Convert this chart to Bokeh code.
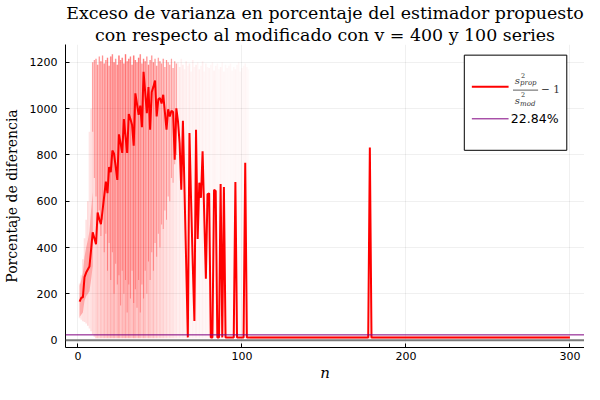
from bokeh.plotting import figure
from bokeh.models import Range1d, FixedTicker, Span, Title
from bokeh.core.properties import value
from bokeh.embed import file_html
from bokeh.resources import INLINE

# media del exceso de varianza (%) para n = 1..104
media = [166, 183, 185, 272, 292, 305, 318, 390, 466, 440,
         414, 551, 522, 501, 560, 622, 685, 635, 748, 726,
         819, 805, 750, 692, 889, 850, 809, 955, 880, 809,
         977, 955, 929, 840, 1066, 1020, 973, 1013, 920, 1159,
         1070, 980, 1093, 909, 1072, 1095, 1121, 966, 1040, 1046,
         1022, 1060, 985, 909, 997, 966, 991, 985, 779, 1001,
         945, 850, 650, 948, 640, 330, 12, 895, 600, 330,
         83, 909, 437, 680, 615, 816, 540, 265, 631, 634,
         12, 12, 650, 644, 12, 12, 674, 12, 661, 12,
         12, 12, 12, 12, 12, 683, 12, 12, 12, 12,
         12, 766, 12, 12]
n_total = 300
media_cola = 12.0
picos_cola = {178: 832.0}

# envolvente de las 100 series (n = 1..104) y su densidad
banda_inf = [95, 88, 82, 78, 72, 62, 50, 38, 25, 15] + [8] * 94
banda_sup = [245, 280, 350, 440, 520, 600, 900, 1000, 1200, 1210,
             1215, 1190, 1225, 1205, 1230, 1195, 1210, 1220, 1185, 1225,
             1235, 1200, 1215, 1190, 1230, 1210, 1220, 1195, 1235, 1205,
             1215, 1225, 1190, 1230, 1210, 1200, 1220, 1235, 1195, 1215,
             1205, 1225, 1190, 1210, 1230, 1200, 1215, 1185, 1220, 1205,
             1195, 1215, 1180, 1210, 1200, 1190, 1215, 1175, 1205, 1195,
             1200, 1180, 1215, 1190, 1170, 1205, 1185, 1195, 1160, 1210,
             1180, 1190, 1200, 1170, 1185, 1205, 1160, 1195, 1180, 1175,
             1190, 1200, 1165, 1185, 1195, 1170, 1180, 1200, 1160, 1190,
             1175, 1185, 1195, 1165, 1180, 1170, 1190, 1200, 1160, 1175,
             1185, 1195, 1180, 1170]
densidad = [0.10, 0.10, 0.12, 0.12, 0.12, 0.14, 0.10, 0.12, 0.16, 0.14,
            0.18, 0.22, 0.16, 0.24, 0.18, 0.26, 0.20, 0.28, 0.22, 0.30,
            0.24, 0.32, 0.22, 0.28, 0.34, 0.22, 0.30, 0.26, 0.34, 0.24,
            0.32, 0.26, 0.24, 0.34, 0.28, 0.22, 0.32, 0.26, 0.20, 0.30,
            0.24, 0.18, 0.28, 0.22, 0.18, 0.26, 0.16, 0.22, 0.14, 0.20,
            0.14, 0.18, 0.12, 0.16, 0.10, 0.14, 0.10, 0.12, 0.08, 0.10,
            0.06, 0.09, 0.05, 0.08, 0.05, 0.07, 0.04, 0.08, 0.04, 0.06,
            0.04, 0.07, 0.04, 0.06, 0.04, 0.06, 0.03, 0.05, 0.03, 0.05,
            0.03, 0.04, 0.05, 0.04, 0.03, 0.03, 0.05, 0.03, 0.04, 0.03,
            0.03, 0.03, 0.03, 0.03, 0.03, 0.04, 0.03, 0.03, 0.03, 0.03,
            0.03, 0.04, 0.03, 0.02]
# zona alta mas saturada (de este valor hasta el techo), n = 9..60
densa_inf = [900, 700, 620, 500, 560, 450, 520, 380, 460, 300,
             420, 260, 380, 200, 330, 240, 280, 150, 300, 200,
             260, 120, 240, 180, 300, 160, 220, 140, 260, 120,
             240, 180, 300, 200, 340, 260, 380, 300, 420, 360,
             460, 400, 500, 480, 560, 520, 620, 600, 700, 680,
             760, 800]
densa_alfa = 0.32
# nucleo mas denso alrededor de la media al principio
nucleo_inf = [100, 110, 120, 170, 190, 200, 210, 260, 320]
nucleo_sup = [235, 260, 290, 360, 400, 430, 470, 560, 640]
banda_cola = (6.0, 20.0)

referencia = 22.84
x_ticks = [0, 100, 200, 300]
y_ticks = [0, 200, 400, 600, 800, 1000, 1200]
titulo = ["Exceso de varianza en porcentaje del estimador propuesto",
          "con respecto al modificado con v = 400 y 100 series"]

n = list(range(1, n_total + 1))
serie = [float(v) for v in media] + [media_cola] * (n_total - len(media))
for k, v in picos_cola.items():
    serie[k - 1] = v
n_banda = n[:len(banda_inf)]
n_cola = n[len(banda_inf):]
n_densa = n[8:8 + len(densa_inf)]
densa_sup = banda_sup[8:8 + len(densa_inf)]

serif = value("DejaVu Serif")
sans = value("DejaVu Sans")

p = figure(width=584, height=384, output_backend="svg", toolbar_location=None,
           x_range=Range1d(-7.6, 308.9), y_range=Range1d(-31.7, 1277))
p.min_border_left = 10
p.min_border_right = 0
p.min_border_bottom = 10
p.min_border_top = 0
p.outline_line_color = None

p.add_layout(Title(text=titulo[1], align="center", text_font="DejaVu Serif",
                   text_font_size="17.4px", text_font_style="normal",
                   text_color="black", standoff=0), "above")
p.add_layout(Title(text=titulo[0], align="center", text_font="DejaVu Serif",
                   text_font_size="17.4px", text_font_style="normal",
                   text_color="black", standoff=0), "above")

for ax in (p.xaxis[0], p.yaxis[0]):
    ax.major_tick_in = 4
    ax.major_tick_out = 0
    ax.minor_tick_in = 0
    ax.minor_tick_out = 0
    ax.axis_line_color = "black"
    ax.major_tick_line_color = "black"
    ax.major_label_text_font = "DejaVu Sans"
    ax.major_label_text_font_size = "11px"
    ax.major_label_text_color = "black"
    ax.axis_label_text_font = "DejaVu Serif"
    ax.axis_label_text_font_size = "14px"
    ax.axis_label_text_color = "black"

p.xaxis.ticker = FixedTicker(ticks=x_ticks)
p.yaxis.ticker = FixedTicker(ticks=y_ticks)
p.xaxis.axis_label = "n"
p.xaxis.axis_label_text_font_style = "italic"
p.xaxis.axis_label_text_font_size = "15px"
p.xaxis.major_label_standoff = 4
p.xaxis.axis_label_standoff = 1
p.yaxis.axis_label = "Porcentaje de diferencia"
p.yaxis.axis_label_text_font_style = "normal"
p.yaxis.axis_label_standoff = 7
p.yaxis.major_label_standoff = 8
p.grid.grid_line_color = "black"
p.grid.grid_line_alpha = 0.1
p.grid.grid_line_width = 0.6

# cinta de las series
p.vbar(x=n_banda, width=1.0, bottom=banda_inf, top=banda_sup,
       fill_color="red", fill_alpha=densidad, line_color=None)
p.vbar(x=n_densa, width=0.6, bottom=densa_inf, top=densa_sup,
       fill_color="red", fill_alpha=densa_alfa, line_color=None)
p.varea(x=n_banda[:len(nucleo_inf)], y1=nucleo_inf, y2=nucleo_sup,
        fill_color="red", fill_alpha=0.25)
p.varea(x=n_cola, y1=[banda_cola[0]] * len(n_cola), y2=[banda_cola[1]] * len(n_cola),
        fill_color="red", fill_alpha=0.15)

p.line(n, serie, line_color="red", line_width=2)

p.add_layout(Span(location=0, dimension="width", line_color="#7a7a7a", line_width=2))
p.add_layout(Span(location=referencia, dimension="width", line_color="#800080", line_width=1))

# leyenda
p.quad(left=[235.6], right=[298.1], bottom=[820], top=[1231],
       fill_color="white", line_color="black", line_width=1)
p.segment(x0=[240.2], x1=[262.6], y0=[1094], y1=[1094], line_color="red", line_width=2)
p.segment(x0=[240.2], x1=[262.6], y0=[956], y1=[956], line_color="#800080", line_width=1)
p.text(x=[264.0], y=[956], text=[f"{referencia:.2f}%"], text_font=sans,
       text_font_size="12.5px", text_baseline="middle", text_align="left", text_color="black")
p.text(x=[266.3, 266.3], y=[1121, 1033], text=["s", "s"], text_font=serif,
       text_font_style="italic", text_font_size="10px", text_baseline="middle",
       text_color="#333333")
p.text(x=[270.2, 270.2], y=[1143, 1059], text=["2", "2"], text_font=serif,
       text_font_size="6.5px", text_baseline="middle", text_color="#333333")
p.text(x=[269.6, 269.6], y=[1110, 1022], text=["prop", "mod"], text_font=serif,
       text_font_style="italic", text_font_size="7px", text_baseline="middle",
       text_color="#333333")
p.segment(x0=[265.3], x1=[280.6], y0=[1080], y1=[1080], line_color="#333333", line_width=0.8)
p.text(x=[282.4], y=[1086], text=["\u2212 1"], text_font=serif, text_font_size="10.5px",
       text_baseline="middle", text_color="#333333")

open("out.html", "w").write(file_html(p, INLINE))
